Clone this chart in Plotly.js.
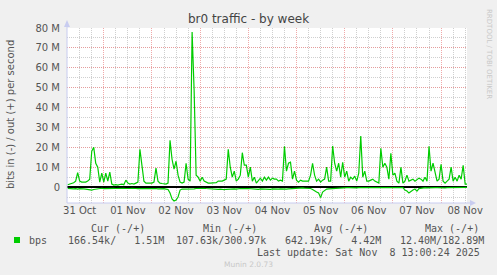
<!DOCTYPE html>
<html>
<head>
<meta charset="utf-8">
<script src="https://cdn.plot.ly/plotly-3.0.1.min.js"></script>
<style>html,body{margin:0;padding:0;background:#F0F0F0;}#chart{width:497px;height:275px;}</style>
</head>
<body>
<div id="chart"></div>
<script>
// hourly samples starting 2025-10-31 06:00, values in Mbit/s
const startTime = Date.UTC(2025, 9, 31, 6, 0, 0);
const stepMs = 3600000;
const outMbps = [
  1.2,1.5,2,2.2,3,7.3,3,2.5,2.5,2.5,
  3,4,18,20,12,10,2.5,7,2.5,7,
  3,7.5,1.5,1,1.2,1,1.3,1.5,1.2,3.5,
  2,1.5,1.8,1.5,2,2.5,19,10,3,2,
  2,2.2,2,2.5,9.5,3,2,1.8,1.5,1.5,
  2,23.5,14,9,13,6,2.5,2,2.5,12,
  4,3,78,48.7,6,5,3,5,3,2.5,
  2,2,2,2,2.2,3,3,3,3.5,4,
  19,10,5,8,3,4,6,17.3,11,11,
  5,10,3,5,2,3,4.5,3,5,3.5,
  5,3.5,4.5,4,4,3,3.5,3,20.5,8,
  12,12.5,4,8,3.5,2.5,3.5,3,3,3,
  3,6,12,6,3,4,2.5,3.5,4,10,
  3,3,20.7,12,8,12,5,12.5,5,8,
  3,5,4,5.5,3,7,25.7,5,8,3,
  3,3.5,4,3,2.5,2,19.5,10,12,10,
  4,17,6,7,3,2,10,2,3,6,
  3,3.5,4,3,4,4.5,4,3,5,3,
  20.5,8,12,8,3,4,11.5,3,2,3,
  4,10,3,5,3,6,4,11,1.5,1.51
];
const inMbps = [
  0.6,0.8,0.7,0.9,0.8,1.0,0.8,0.7,0.9,1.0,
  1.1,1.3,1.5,1.2,1.0,0.8,0.7,0.6,0.8,0.7,
  0.6,0.7,0.5,0.6,0.7,0.6,0.8,0.7,0.6,0.7,
  0.8,0.7,0.6,0.5,0.7,0.8,0.6,0.7,0.8,0.7,
  0.6,0.7,0.8,0.6,0.7,0.9,0.8,0.7,0.8,1.0,
  1.2,3,6,7,6.5,5,1.5,1.0,1.0,0.9,
  1.1,0.8,1.0,0.9,0.7,0.6,0.8,0.7,0.6,0.7,
  0.8,1.0,1.1,1.2,1.2,1.1,1.0,1.2,1.3,1.1,
  1.0,0.9,0.8,0.9,1.0,0.8,0.7,0.8,0.9,0.8,
  0.7,0.8,0.9,1.0,1.0,1.1,0.9,1.0,1.1,1.0,
  1.0,1.1,0.9,1.0,1.1,1.0,0.9,1.0,1.1,1.0,
  0.9,0.8,0.6,0.5,0.5,0.6,0.5,0.4,0.5,0.6,
  0.5,0.7,1.2,2.0,2.5,3.0,5.3,2.5,1.5,1.0,
  0.9,0.8,0.8,0.7,0.8,0.7,0.6,0.5,0.4,0.3,
  0.3,0.4,0.3,0.3,0.4,0.3,0.3,0.4,0.3,0.2,
  0.3,0.4,0.3,0.3,0.4,0.3,0.3,0.2,0.3,0.4,
  0.3,0.3,0.4,0.3,0.3,0.4,0.3,0.3,1.5,2.0,
  3.0,2.0,1.5,1.0,2.0,0.8,0.5,0.4,0.3,0.4,
  0.3,0.3,0.4,0.3,0.3,0.4,0.3,0.3,0.4,0.3,
  0.3,0.2,0.3,0.4,0.3,0.3,0.2,0.3,0.2,0.17
];
const yTickVals = [0,10,20,30,40,50,60,70,80];
const yTickText = ['0','10 M','20 M','30 M','40 M','50 M','60 M','70 M','80 M'];
const dayLabels = ['2025-10-31 12:00','2025-11-01 12:00','2025-11-02 12:00','2025-11-03 12:00','2025-11-04 12:00','2025-11-05 12:00','2025-11-06 12:00','2025-11-07 12:00','2025-11-08 12:00'];
const legendHeader = ['Cur (-/+)','Min (-/+)','Avg (-/+)','Max (-/+)'];
const legendValues = ['166.54k/   1.51M','107.63k/300.97k','642.19k/   4.42M','12.40M/182.89M'];
const seriesName = 'bps';
const lastUpdate = 'Last update: Sat Nov  8 13:00:24 2025';

function fmt(ms){ return new Date(ms).toISOString().slice(0,16).replace('T',' '); }
const times = outMbps.map((_, i) => fmt(startTime + i*stepMs));
const inNeg = inMbps.map(v => -v);

const L = 67, R = 467, T = 28, B = 203;
const px = x => (x - L) / (R - L);
const py = y => (B - y) / (B - T);
const nb = s => s.replace(/ /g, '\u00a0');
const GREEN = '#00CC00';
const AXC = '#C8CCF0';
const MAJ = 'rgba(235,140,140,0.75)';
const MIN = '#CFCFCF';
const DOTS = '1px,1px';
const mono = {family:'DejaVu Sans Mono', size:10, color:'#555555'};

function ann(text, x, y, xanchor, font, extra){
  return Object.assign({xref:'paper', yref:'paper', x:px(x), y:py(y), text:nb(text), showarrow:false,
    xanchor:xanchor, yanchor:'middle', font:font}, extra||{});
}

const annotations = [
  ann('bits in (-) / out (+) per second', 10, 115, 'center', {family:'DejaVu Sans', size:10, color:'#555555'}, {textangle:-90}),
  ann('RRDTOOL / TOBI OETIKER', 489, 54, 'center', {family:'DejaVu Sans', size:7, color:'#C8C8C8'}, {textangle:90}),
  ann('Munin 2.0.73', 248, 264, 'center', {family:'DejaVu Sans', size:7.5, color:'#C8C8C8'}),
  ann(legendHeader[0], 89, 228, 'left', mono),
  ann(legendHeader[1], 201, 228, 'left', mono),
  ann(legendHeader[2], 312, 228, 'left', mono),
  ann(legendHeader[3], 423, 228, 'left', mono),
  ann(seriesName, 27, 240, 'left', mono),
  ann(legendValues[0], 66, 240, 'left', mono),
  ann(legendValues[1], 174, 240, 'left', mono),
  ann(legendValues[2], 283, 240, 'left', mono),
  ann(legendValues[3], 398, 240, 'left', mono),
  ann(lastUpdate, 482, 252, 'right', mono)
];

const shapes = [
  {type:'line', xref:'paper', yref:'paper', x0:px(67), x1:px(67), y0:py(203), y1:py(24), line:{color:AXC, width:1}},
  {type:'path', xref:'paper', yref:'paper', path:`M ${px(64)} ${py(27)} L ${px(70)} ${py(27)} L ${px(67)} ${py(20)} Z`, fillcolor:AXC, line:{width:0}},
  {type:'line', xref:'paper', yref:'paper', x0:px(67), x1:px(471), y0:py(203), y1:py(203), line:{color:AXC, width:1}},
  {type:'path', xref:'paper', yref:'paper', path:`M ${px(470)} ${py(200)} L ${px(470)} ${py(206)} L ${px(476)} ${py(203)} Z`, fillcolor:AXC, line:{width:0}},
  {type:'rect', xref:'paper', yref:'paper', x0:px(14), x1:px(20), y0:py(243), y1:py(237), fillcolor:GREEN, line:{width:0}}
];

const xRange = ['2025-10-31 05:41', '2025-11-08 12:55'];

const data = [
  {x:times, y:outMbps, type:'scatter', mode:'lines', line:{color:GREEN, width:1.2}, hoverinfo:'skip'},
  {x:times, y:inNeg, type:'scatter', mode:'lines', line:{color:GREEN, width:1.2}, hoverinfo:'skip'},
  {x:[], y:[], type:'scatter', mode:'lines', xaxis:'x2', hoverinfo:'skip'}
];

const layout = {
  width:497, height:275,
  margin:{l:L, r:497-R, t:T, b:275-B, pad:0},
  paper_bgcolor:'#F0F0F0', plot_bgcolor:'#FFFFFF',
  showlegend:false,
  title:{text:'br0 traffic - by week', font:{family:'DejaVu Sans', size:12, color:'#444444'},
    xref:'container', x:0.5, xanchor:'center', yref:'container', y:1-19/275, yanchor:'middle'},
  xaxis:{type:'date', range:xRange, tickmode:'linear', tick0:'2025-10-31 00:00', dtick:86400000,
    showgrid:true, gridcolor:MAJ, griddash:DOTS, gridwidth:1,
    showticklabels:false, ticks:'', zeroline:false, showline:false,
    minor:{tickmode:'linear', tick0:'2025-10-31 00:00', dtick:21600000, showgrid:true, gridcolor:MIN, griddash:DOTS, gridwidth:1, ticks:''}},
  xaxis2:{type:'date', range:xRange, overlaying:'x', anchor:'y', side:'bottom',
    tickmode:'array', tickvals:dayLabels, tickformat:'%d %b', showgrid:false, ticks:'', zeroline:false, showline:false,
    tickfont:{family:'DejaVu Sans', size:10, color:'#555555'}},
  yaxis:{range:[-8,80], tickmode:'array', tickvals:yTickVals, ticktext:yTickText,
    showgrid:true, gridcolor:MAJ, griddash:DOTS, gridwidth:1,
    minor:{tickmode:'linear', tick0:0, dtick:5, showgrid:true, gridcolor:MIN, griddash:DOTS, gridwidth:1, ticks:''},
    zeroline:true, zerolinecolor:'#000000', zerolinewidth:1.5, showline:false, ticks:'', ticklabelstandoff:6,
    tickfont:{family:'DejaVu Sans', size:10, color:'#555555'}},
  annotations:annotations,
  shapes:shapes
};

Plotly.newPlot('chart', data, layout, {staticPlot:true, displayModeBar:false});
</script>
</body>
</html>
